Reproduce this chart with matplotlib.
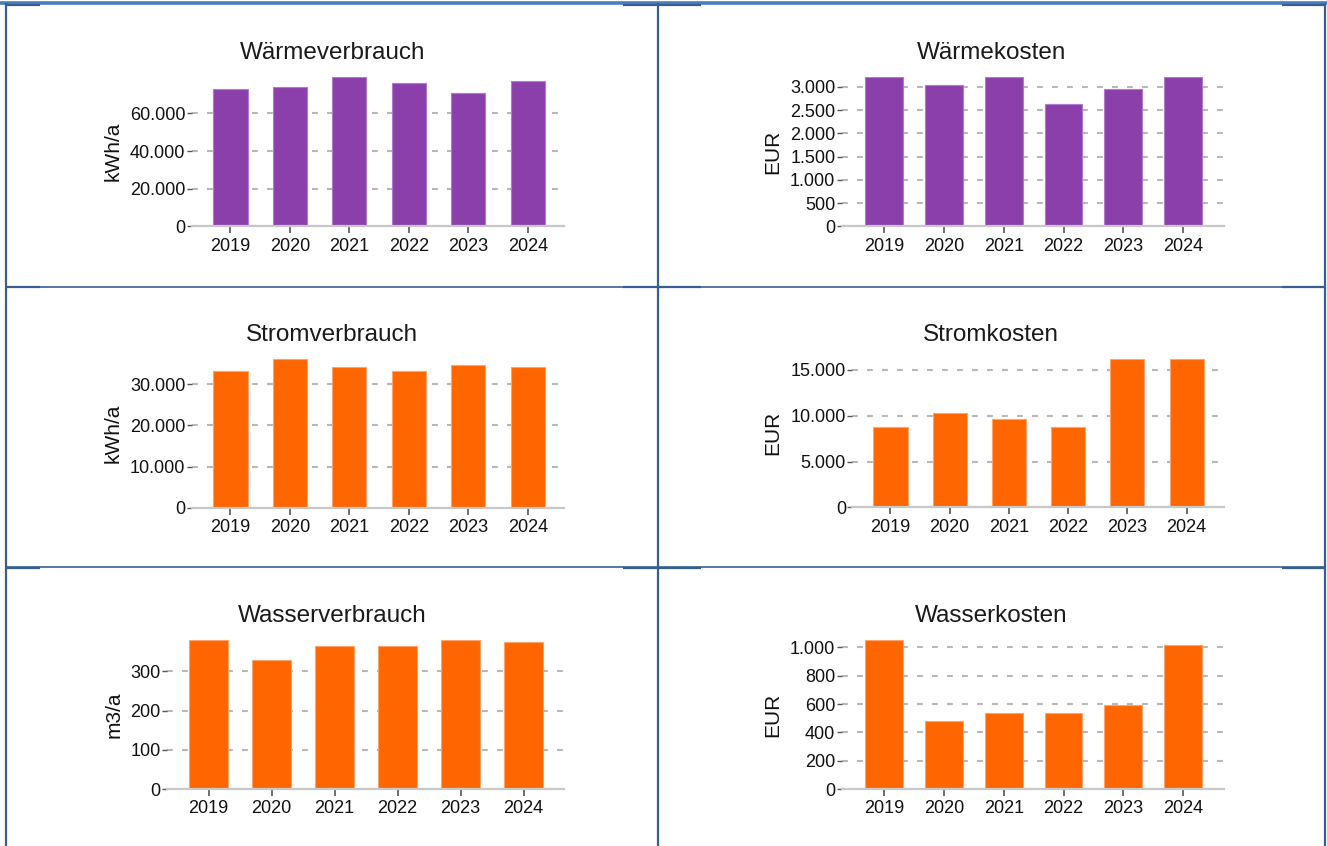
import matplotlib
matplotlib.use("Agg")
import matplotlib.pyplot as plt
from matplotlib.lines import Line2D
from matplotlib.ticker import MultipleLocator, FuncFormatter

# ---------------- data ----------------
years = ["2019", "2020", "2021", "2022", "2023", "2024"]

waerme_verbrauch = [72700, 73800, 79250, 76100, 70600, 77100]   # kWh/a
waerme_kosten = [3215, 3045, 3215, 2645, 2955, 3215]            # EUR
strom_verbrauch = [33250, 36100, 34150, 33250, 34600, 34150]    # kWh/a
strom_kosten = [8780, 10270, 9650, 8780, 16150, 16150]          # EUR
wasser_verbrauch = [379, 328, 364, 364, 379, 374]               # m3/a
wasser_kosten = [1049, 483, 539, 539, 596, 1018]                # EUR

titles = ["Wärmeverbrauch", "Wärmekosten", "Stromverbrauch",
          "Stromkosten", "Wasserverbrauch", "Wasserkosten"]
units = ["kWh/a", "EUR", "kWh/a", "EUR", "m3/a", "EUR"]
tick_steps = [20000, 500, 10000, 5000, 100, 200]
series = [waerme_verbrauch, waerme_kosten, strom_verbrauch,
          strom_kosten, wasser_verbrauch, wasser_kosten]

# ---------------- style / layout ----------------
W, H = 1327, 846
PURPLE = "#8B3FAB"
PURPLE_EDGE = "#B27ACB"
ORANGE = "#FF6600"
ORANGE_EDGE = "#FFA468"
colors = [PURPLE, PURPLE, ORANGE, ORANGE, ORANGE, ORANGE]
edges = [PURPLE_EDGE, PURPLE_EDGE, ORANGE_EDGE, ORANGE_EDGE, ORANGE_EDGE, ORANGE_EDGE]

# axes boxes in pixels: left, right, top (value max), bottom (value 0)
boxes = [
    (191.5, 564.0, 77.0, 226.5),
    (841.6, 1223.6, 77.0, 226.5),
    (191.5, 564.0, 359.0, 508.0),
    (852.3, 1223.6, 359.0, 507.5),
    (167.1, 564.0, 640.3, 789.3),
    (841.6, 1223.6, 640.3, 789.3),
]
xlims = [(-0.655, 5.61), (-0.715, 5.68), (-0.655, 5.61),
         (-0.645, 5.625), (-0.657, 5.64), (-0.715, 5.68)]
bar_widths = [0.575, 0.635, 0.575, 0.575, 0.61, 0.635]
title_pos = [(333, 59.3), (992, 59.3), (332, 341), (991, 341), (332, 621.7), (991.5, 622)]
ylabel_x = [113.6, 773.0, 113.6, 773.0, 113.6, 773.0]

plt.rcParams["font.family"] = ["Liberation Sans", "DejaVu Sans"]

fig = plt.figure(figsize=(W / 100, H / 100), dpi=100)
fig.patch.set_facecolor("white")


def de_fmt(v, pos):
    return f"{int(round(v)):,}".replace(",", ".")


for i in range(6):
    L, R, T, B = boxes[i]
    ax = fig.add_axes([L / W, 1 - B / H, (R - L) / W, (B - T) / H])
    x = list(range(len(years)))
    ax.bar(x, series[i], width=bar_widths[i], color=colors[i],
           edgecolor=edges[i], linewidth=0.8, zorder=3)
    ax.set_xlim(*xlims[i])
    ax.set_ylim(0, max(series[i]))
    ax.set_xticks(x)
    ax.set_xticklabels(years, fontsize=13, color="#111111")
    ax.yaxis.set_major_locator(MultipleLocator(tick_steps[i]))
    ax.yaxis.set_major_formatter(FuncFormatter(de_fmt))
    ax.tick_params(axis="y", labelsize=13, length=3.5, width=1.0,
                   color="#555555", pad=1.0, labelcolor="#111111")
    ax.tick_params(axis="x", length=5, width=1.2, color="#555555",
                   pad=3, direction="out")
    for s in ["top", "right", "left"]:
        ax.spines[s].set_visible(False)
    ax.spines["bottom"].set_color("#C8C8C8")
    ax.spines["bottom"].set_linewidth(1.6)
    ax.spines["bottom"].set_zorder(4)
    ax.set_axisbelow(True)
    ax.yaxis.grid(True, color="#B8B8B8", linewidth=1.5,
                  linestyle=(0, (2.8, 4.4)))
    ax.set_facecolor("none")
    ax.set_ylabel(units[i], fontsize=15, va="center", color="#111111")
    ax.yaxis.set_label_coords((ylabel_x[i] - L) / (R - L), 0.5)
    tx, ty = title_pos[i]
    fig.text(tx / W, 1 - ty / H, titles[i], ha="center", va="baseline",
             fontsize=17.5, color="#1a1a1a")

# ---------------- table borders ----------------
DARK = "#376092"
LIGHT = "#4A7EBB"


def hline(y, x0, x1, lw, c):
    fig.add_artist(Line2D([x0 / W, x1 / W], [1 - y / H, 1 - y / H],
                          transform=fig.transFigure, color=c, linewidth=lw,
                          solid_capstyle="butt"))


def vline(x, y0, y1, lw, c):
    fig.add_artist(Line2D([x / W, x / W], [1 - y0 / H, 1 - y1 / H],
                          transform=fig.transFigure, color=c, linewidth=lw,
                          solid_capstyle="butt"))


# horizontal lines
hline(3.2, 0, 1327, 2.6, LIGHT)
hline(286.5, 5, 1326, 1.2, DARK)
hline(567.3, 5, 1326, 1.2, DARK)
# thicker segments near the cell corners
for yy in [4.9, 287.5, 568.3]:
    for (a, b) in [(5, 40), (623, 701), (1282, 1326)]:
        hline(yy, a, b, 1.6, DARK)
# verticals
vline(6.0, 3, 846, 1.6, DARK)
vline(657.8, 3, 846, 1.6, DARK)
vline(1324.6, 3, 846, 1.6, DARK)

fig.savefig("out.png", dpi=100, facecolor="white")
